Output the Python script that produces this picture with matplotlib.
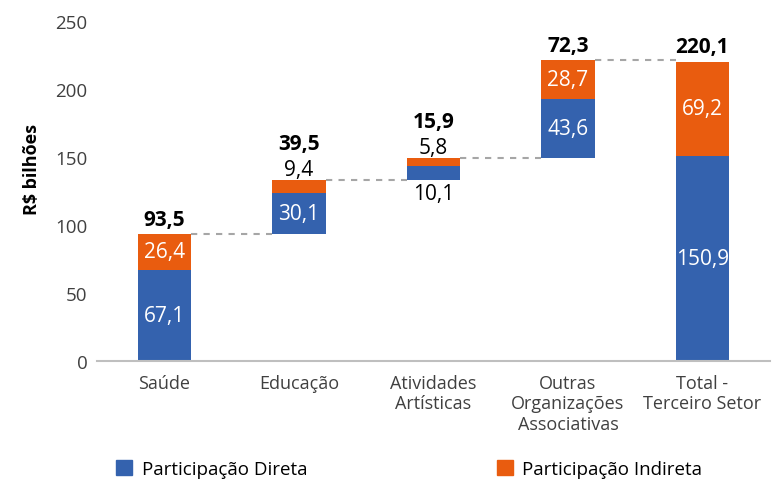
import matplotlib
matplotlib.use("Agg")
import matplotlib.pyplot as plt
from matplotlib.patches import Patch

plt.rcParams['font.family'] = ['Open Sans', 'DejaVu Sans']

categories = ["Saúde", "Educação", "Atividades\nArtísticas",
              "Outras\nOrganizações\nAssociativas", "Total -\nTerceiro Setor"]
direta = [67.1, 30.1, 10.1, 43.6, 150.9]
indireta = [26.4, 9.4, 5.8, 28.7, 69.2]
totais = [93.5, 39.5, 15.9, 72.3, 220.1]
is_total = [False, False, False, False, True]

blue = "#3462AE"
orange = "#E95C0F"
gray_text = "#404040"

fig = plt.figure(figsize=(7.72, 4.81), dpi=100)
ax = fig.add_axes([0.126, 0.2474, 0.871, 0.707])

x = list(range(len(categories)))
width = 0.4
bottoms = []
cum = 0.0
for i in x:
    b = 0.0 if is_total[i] else cum
    bottoms.append(b)
    if not is_total[i]:
        cum += direta[i] + indireta[i]

ax.bar(x, direta, width, bottom=bottoms, color=blue, zorder=2)
ax.bar(x, indireta, width, bottom=[b + d for b, d in zip(bottoms, direta)], color=orange, zorder=2)

# connectors
tops = [b + d + n for b, d, n in zip(bottoms, direta, indireta)]
for i in range(len(x) - 1):
    y = tops[i]
    ax.plot([x[i] + width / 2, x[i + 1] - width / 2], [y, y], ls=(0, (3, 3)),
            color="#A6A6A6", lw=1.5, zorder=1)

fs = 15
for i in x:
    b = bottoms[i]
    d = direta[i]
    n = indireta[i]
    top = b + d + n
    lab_d = f"{d:.1f}".replace(".", ",")
    lab_n = f"{n:.1f}".replace(".", ",")
    lab_t = f"{totais[i]:.1f}".replace(".", ",")
    above = 3
    if d > 12:
        ax.text(i, b + d / 2, lab_d, ha="center", va="center", color="white", fontsize=fs)
    else:
        ax.annotate(lab_d, (i, b), xytext=(0, -2), textcoords="offset points",
                    ha="center", va="top", color="black", fontsize=fs)
    if n > 12:
        ax.text(i, b + d + n / 2, lab_n, ha="center", va="center", color="white", fontsize=fs)
    else:
        ax.annotate(lab_n, (i, top), xytext=(0, 0), textcoords="offset points",
                    ha="center", va="bottom", color="black", fontsize=fs)
        above = 19
    ax.annotate(lab_t, (i, top), xytext=(0, above), textcoords="offset points",
                ha="center", va="bottom", color="black", fontsize=fs, fontweight="bold")

ax.set_xlim(-0.5, 4.5)
ax.set_ylim(0, 250)
ax.set_yticks([0, 50, 100, 150, 200, 250])
ax.set_xticks(x)
ax.set_xticklabels(categories, fontsize=13, color=gray_text, linespacing=1.2)
ax.tick_params(axis="y", labelsize=13.5, labelcolor=gray_text, length=0, pad=7)
ax.tick_params(axis="x", length=0, pad=9)
for s in ["left", "right", "top"]:
    ax.spines[s].set_visible(False)
ax.spines["bottom"].set_color("#BFBFBF")
ax.spines["bottom"].set_linewidth(1.5)
ax.set_ylabel("R$ bilhões", fontsize=13, fontweight="bold", color="black")
ax.yaxis.set_label_coords(-0.083, 0.565)

handles = [Patch(color=blue, label="Participação Direta"),
           Patch(color=orange, label="Participação Indireta")]
fig.legend(handles=handles, ncol=2, loc="center", bbox_to_anchor=(0.53, 0.022),
           frameon=False, fontsize=13.5, handlelength=0.85, handleheight=0.85,
           handletextpad=0.5, columnspacing=10.1, labelcolor="black")

fig.savefig("out.png", dpi=100)
